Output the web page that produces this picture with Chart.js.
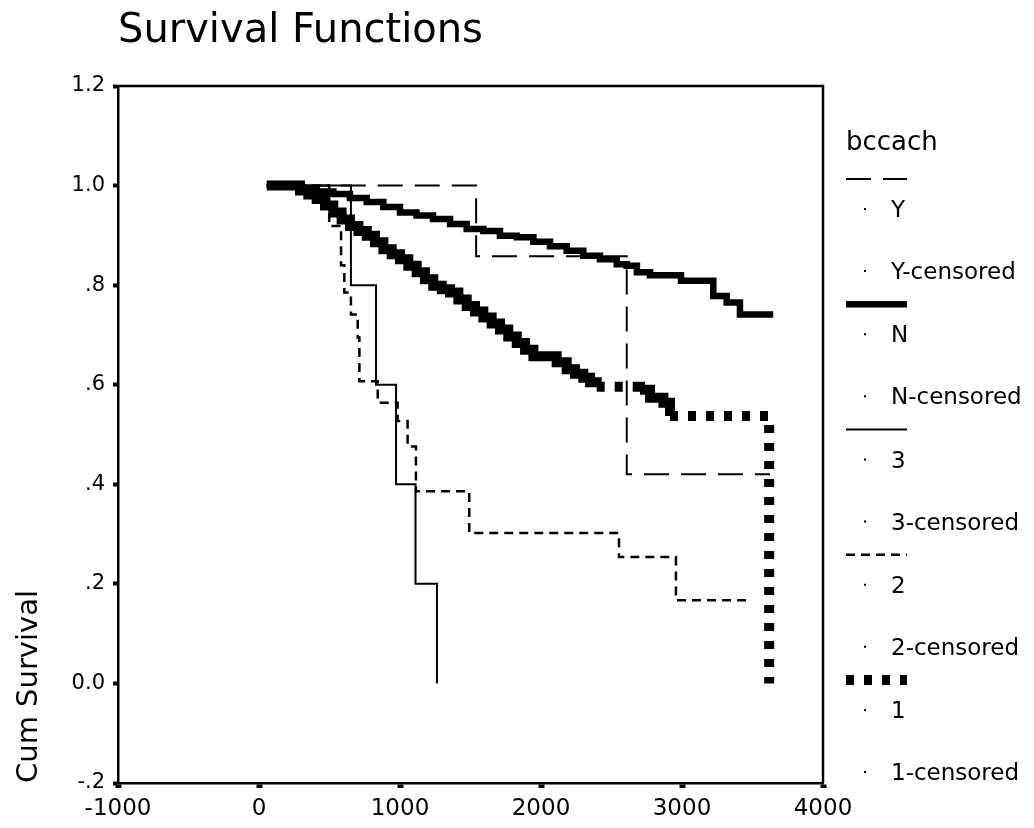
<!DOCTYPE html>
<html><head><meta charset="utf-8">
<script src="https://cdn.jsdelivr.net/npm/chart.js@4"></script>
<style>html,body{margin:0;padding:0;background:#fff}canvas{display:block}</style>
</head><body>
<canvas id="c" width="1034" height="828"></canvas>
<script>
// ---- data ----
const chartTitle = 'Survival Functions';
const yAxisTitle = 'Cum Survival';
const legendTitle = 'bccach';
const seriesNames = ['Y', 'N', '3', '2', '1'];

const timeY = [55, 1540, 2608, 3624];
const survY = [1.0, 0.858, 0.42, 0.42];

const timeN = [55, 291, 409, 527, 645, 764, 882, 1000, 1117, 1234, 1355, 1473, 1591, 1709, 1828, 1946, 2064, 2182, 2300, 2418, 2537, 2608, 2680, 2773, 2993, 3222, 3317, 3411, 3647];
const survN = [1.0, 0.993, 0.988, 0.983, 0.975, 0.967, 0.957, 0.946, 0.94, 0.933, 0.923, 0.913, 0.909, 0.899, 0.896, 0.887, 0.878, 0.869, 0.859, 0.852, 0.842, 0.839, 0.826, 0.82, 0.809, 0.778, 0.765, 0.741, 0.741];

const time3 = [55, 652, 830, 972, 1110, 1262];
const surv3 = [1.0, 0.8, 0.6, 0.4, 0.2, 0.0];

const time2 = [55, 498, 582, 605, 652, 700, 712, 842, 983, 1054, 1113, 1491, 2553, 2957, 3489];
const surv2 = [1.0, 0.919, 0.84, 0.785, 0.741, 0.695, 0.607, 0.564, 0.527, 0.476, 0.386, 0.302, 0.254, 0.167, 0.167];

const time1 = [55, 291, 350, 409, 468, 527, 586, 645, 705, 764, 823, 882, 941, 1000, 1059, 1118, 1177, 1236, 1296, 1355, 1414, 1473, 1532, 1591, 1650, 1709, 1768, 1828, 1887, 1946, 2111, 2182, 2241, 2300, 2348, 2395, 2702, 2773, 2868, 2915, 3618];
const surv1 = [1.0, 0.99, 0.982, 0.973, 0.96, 0.946, 0.932, 0.919, 0.909, 0.899, 0.886, 0.872, 0.862, 0.852, 0.839, 0.826, 0.812, 0.799, 0.792, 0.785, 0.771, 0.758, 0.747, 0.735, 0.723, 0.711, 0.697, 0.684, 0.67, 0.657, 0.645, 0.631, 0.622, 0.614, 0.605, 0.596, 0.59, 0.574, 0.564, 0.537, 0.0];

const xTickValues = [-1000, 0, 1000, 2000, 3000, 4000];
const xTickLabels = ['-1000', '0', '1000', '2000', '3000', '4000'];
const yTickValues = [-0.2, 0, 0.2, 0.4, 0.6, 0.8, 1.0, 1.2];
const yTickLabels = ['-.2', '0.0', '.2', '.4', '.6', '.8', '1.0', '1.2'];

// ---- build ----
const pairs = (ts, vs) => ts.map((t, i) => ({ x: t, y: vs[i] }));
const FONT = '"DejaVu Sans", "Liberation Sans", Arial, sans-serif';

const styles = [
  { w: 2, dash: [25, 12] },
  { w: 6.5, dash: [] },
  { w: 2, dash: [] },
  { w: 2.5, dash: [9, 6] },
  { w: 10, dash: [8, 10] }
];
const seriesData = [pairs(timeY, survY), pairs(timeN, survN), pairs(time3, surv3), pairs(time2, surv2), pairs(time1, surv1)];

const datasets = seriesNames.map((name, i) => {
  const ds = {
    label: name,
    data: seriesData[i],
    stepped: 'before',
    borderColor: '#000',
    backgroundColor: '#000',
    borderWidth: styles[i].w,
    borderDash: styles[i].dash,
    legendDash: styles[i].dash,
    borderCapStyle: 'butt',
    borderJoinStyle: 'miter',
    pointRadius: 0,
    fill: false
  };
  if (name === '1') {
    // SPSS restarts the dot pattern per step: short steps render solid
    ds.borderDash = [];
    ds.segment = { borderDash: ctx => (ctx.p1.parsed.x - ctx.p0.parsed.x) > 250 ? [8, 10] : [] };
  }
  return ds;
});

const framePlugin = {
  id: 'frame',
  beforeDatasetsDraw(chart) {
    const { ctx, chartArea: a } = chart;
    ctx.save();
    ctx.strokeStyle = '#000';
    ctx.lineWidth = 2.5;
    ctx.beginPath();
    ctx.moveTo(a.left, a.top);
    ctx.lineTo(a.right, a.top);
    ctx.lineTo(a.right, a.bottom);
    ctx.stroke();
    ctx.restore();
  }
};

const legendPlugin = {
  id: 'spssLegend',
  afterDraw(chart) {
    const ctx = chart.ctx;
    ctx.save();
    ctx.fillStyle = '#000';
    ctx.strokeStyle = '#000';
    ctx.textBaseline = 'alphabetic';
    ctx.textAlign = 'left';
    ctx.font = '26px ' + FONT;
    ctx.fillText(legendTitle, 846, 150);
    chart.data.datasets.forEach((ds, i) => {
      const y0 = 179 + i * 125.25;
      ctx.beginPath();
      ctx.lineWidth = ds.borderWidth;
      ctx.lineCap = 'butt';
      ctx.setLineDash(ds.legendDash);
      ctx.moveTo(846, y0);
      ctx.lineTo(907, y0);
      ctx.stroke();
      ctx.setLineDash([]);
      ctx.font = '23px ' + FONT;
      [[ds.label, 38], [ds.label + '-censored', 100]].forEach(([t, dy]) => {
        ctx.fillText(t, 891, y0 + dy);
        ctx.fillRect(864, y0 + dy - 9, 2, 2);
      });
    });
    ctx.restore();
  }
};

new Chart(document.getElementById('c'), {
  type: 'line',
  data: { datasets },
  plugins: [framePlugin, legendPlugin],
  options: {
    responsive: false,
    animation: false,
    devicePixelRatio: 1,
    layout: { padding: { left: 0, right: 211, top: 0, bottom: 0 } },
    plugins: {
      legend: { display: false },
      tooltip: { enabled: false },
      title: {
        display: true,
        text: chartTitle,
        align: 'start',
        fullSize: false,
        color: '#000',
        font: { family: FONT, size: 40, weight: 'normal', lineHeight: 0.9 },
        padding: { top: 14, bottom: 36 }
      }
    },
    scales: {
      x: {
        type: 'linear',
        min: -1000,
        max: 4000,
        afterFit: s => { s.height = 45; },
        afterBuildTicks: s => { s.ticks = xTickValues.map(v => ({ value: v })); },
        ticks: {
          color: '#000',
          font: { family: FONT, size: 23 },
          padding: 7,
          maxRotation: 0,
          autoSkip: false,
          callback: (v, i) => xTickLabels[i]
        },
        grid: { drawOnChartArea: false, drawTicks: true, tickLength: 5, tickWidth: 6, tickColor: '#000' },
        border: { display: true, color: '#000', width: 2.5 }
      },
      y: {
        type: 'linear',
        min: -0.2,
        max: 1.2,
        afterFit: s => { s.width = 118; },
        afterBuildTicks: s => { s.ticks = yTickValues.map(v => ({ value: v })); },
        ticks: {
          color: '#000',
          font: { family: FONT, size: 21 },
          padding: 8,
          autoSkip: false,
          callback: (v, i) => yTickLabels[i]
        },
        title: {
          display: true,
          text: yAxisTitle,
          align: 'start',
          color: '#000',
          font: { family: FONT, size: 29, weight: 'normal' },
          padding: { top: 12, bottom: 0 }
        },
        grid: { drawOnChartArea: false, drawTicks: true, tickLength: 5, tickWidth: 4, tickColor: '#000' },
        border: { display: true, color: '#000', width: 2.5 }
      }
    }
  }
});
</script>
</body></html>
